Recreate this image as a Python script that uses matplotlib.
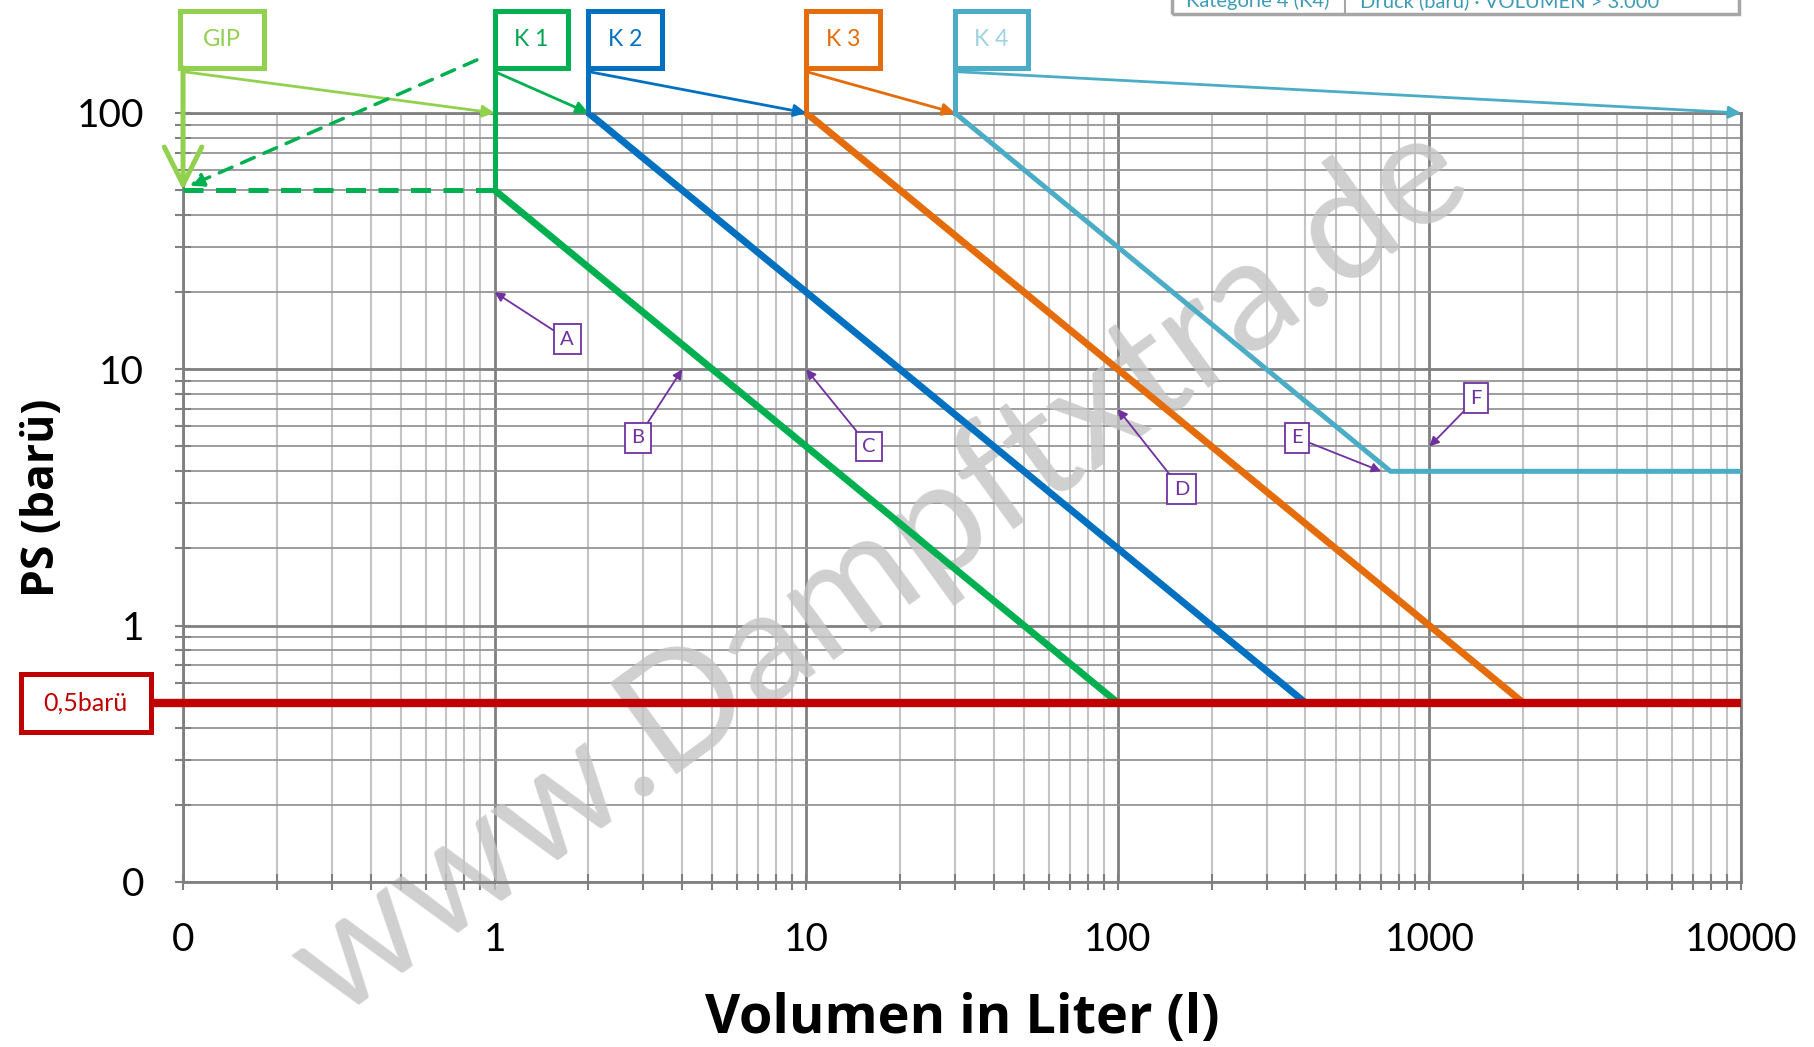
import numpy as np
import matplotlib.pyplot as plt
from matplotlib.patches import Rectangle
from matplotlib.ticker import LogLocator, NullFormatter

plt.rcParams['font.family'] = ['Lato', 'DejaVu Sans']

# pressure equipment categories: limit curves volume V (l) vs. max pressure PS (barü)
categories = ['K 1', 'K 2', 'K 3', 'K 4']
cat_colors = ['#00B050', '#0070C0', '#E46C0A', '#4BACC6']
label_colors = ['#00A64F', '#0070C0', '#E46C0A', '#9DD3E0']
curve_v = [[1, 100], [2, 400], [10, 2000], [30, 750, 10000]]
curve_ps = [[50, 0.5], [100, 0.5], [100, 0.5], [100, 4, 4]]
next_start_v = [2, 10, 30, 10000]   # where each category arrow points (at PS = 100)

gip_label = 'GIP'
gip_ps = 50          # GIP limit pressure up to 1 l
gip_v_end = 1
min_ps = 0.5         # lower limit 0,5 barü
min_ps_label = '0,5barü'

# purple markers A-F: target point (V, PS) and label position (V, PS)
marker_labels = ['A', 'B', 'C', 'D', 'E', 'F']
marker_xy = [(1, 20), (4, 10), (10, 10), (100, 7), (700, 4), (1000, 5)]
marker_text_xy = [(1.71, 13.1), (2.88, 5.4), (15.9, 5.0), (160, 3.4), (376, 5.4), (1413, 7.7)]

x_ticks = [0.1, 1, 10, 100, 1000, 10000]
x_ticklabels = ['0', '1', '10', '100', '1000', '10000']
y_ticks = [0.1, 1, 10, 100]
y_ticklabels = ['0', '1', '10', '100']

table_cells = ['Kategorie 4 (K4)', 'Druck (barü) · VOLUMEN > 3.000']

fig = plt.figure(figsize=(18.14, 10.47), dpi=100)
ax = fig.add_axes([0.1009, 0.1576, 0.8589, 0.7345])
ax.set_xscale('log')
ax.set_yscale('log')
ax.set_xlim(0.1, 10000)
ax.set_ylim(0.1, 100)

# grid
for axis in (ax.xaxis, ax.yaxis):
    axis.set_minor_locator(LogLocator(base=10, subs=range(2, 10), numticks=30))
    axis.set_minor_formatter(NullFormatter())
ax.set_xticks(x_ticks)
ax.set_xticklabels(x_ticklabels)
ax.set_yticks(y_ticks)
ax.set_yticklabels(y_ticklabels)
ax.grid(which='major', color='#808080', lw=2)
ax.grid(which='minor', axis='x', color='#c4c4c4', lw=1.5)
ax.grid(which='minor', axis='y', color='#959595', lw=1.3)
for s in ax.spines.values():
    s.set_color('#808080')
    s.set_linewidth(2)
ax.tick_params(which='both', direction='inout', length=12, width=1.5, color='#808080',
               labelsize=28)
ax.tick_params(axis='x', pad=23)
ax.tick_params(axis='y', pad=22)

ax.text(0.5, -0.178, 'Volumen in Liter (l)', transform=ax.transAxes, ha='center',
        va='center', fontsize=39, fontweight='bold', family=['Open Sans', 'DejaVu Sans'])
ax.text(-0.09, 0.5, 'PS (barü)', transform=ax.transAxes, ha='center', va='center',
        rotation=90, fontsize=32, fontweight='bold', family=['Open Sans', 'DejaVu Sans'])

# watermark
ax.text(0.485, 0.456, 'www.Dampftxtra.de', transform=fig.transFigure, rotation=36,
        rotation_mode='anchor', ha='center', va='center', fontsize=113,
        color='#c4c4c4', alpha=0.8, zorder=1.6, clip_on=False)

box_y0, box_y1 = 150, 250
arrow_y0 = 145

# category curves, boxes and arrows
for i, cat in enumerate(categories):
    c = cat_colors[i]
    lw = 3.6 if i == 3 else 5
    ax.plot(curve_v[i], curve_ps[i], color=c, lw=lw, zorder=4, solid_capstyle='butt')
    v0, p0 = curve_v[i][0], curve_ps[i][0]
    ax.plot([v0, v0], [p0, box_y0], color=c, lw=3.6, zorder=4, clip_on=False)
    ax.add_patch(Rectangle((v0, box_y0), 0.72 * v0, box_y1 - box_y0, fc='white', ec=c,
                           lw=3.6, zorder=5, clip_on=False))
    ax.text(v0 * 1.72 ** 0.5, (box_y0 * box_y1) ** 0.5, cat, color=label_colors[i],
            fontsize=16.5, ha='center', va='center', zorder=6, clip_on=False)
    ax.annotate('', xy=(next_start_v[i], 100), xytext=(v0, arrow_y0),
                arrowprops=dict(arrowstyle='-|>', color=c, lw=2, mutation_scale=18,
                                shrinkA=0, shrinkB=0), annotation_clip=False, zorder=5)

# GIP
gip_c = '#92D050'
ax.add_patch(Rectangle((0.0975, box_y0), 0.0845, box_y1 - box_y0, fc='white', ec=gip_c,
                       lw=3.6, zorder=5, clip_on=False))
ax.text(0.0975 * 1.87 ** 0.5, (box_y0 * box_y1) ** 0.5, gip_label, color=gip_c,
        fontsize=17, ha='center', va='center', zorder=6, clip_on=False)
ax.annotate('', xy=(0.1, gip_ps), xytext=(0.1, box_y0),
            arrowprops=dict(arrowstyle='->,head_length=0.9,head_width=0.45', color=gip_c,
                            lw=3.6, mutation_scale=30, shrinkA=0, shrinkB=0),
            annotation_clip=False, zorder=5)
ax.annotate('', xy=(1, 100), xytext=(0.1, arrow_y0),
            arrowprops=dict(arrowstyle='-|>', color=gip_c, lw=2, mutation_scale=18,
                            shrinkA=0, shrinkB=0), annotation_clip=False, zorder=5)
ax.plot([0.1, gip_v_end], [gip_ps, gip_ps], color=cat_colors[0], lw=3.6, ls=(0, (4, 2.5)),
        zorder=4, clip_on=False)
ax.annotate('', xy=(0.105, 52), xytext=(0.877, 161),
            arrowprops=dict(arrowstyle='-|>', color=cat_colors[0], lw=2.5, ls=(0, (4, 3)),
                            mutation_scale=20, shrinkA=0, shrinkB=0),
            annotation_clip=False, zorder=5)

# lower limit 0,5 barü
red = '#C00000'
ax.plot([0.0787, 10000], [min_ps, min_ps], color=red, lw=6, zorder=4.5, clip_on=False,
        solid_capstyle='butt')
ax.add_patch(Rectangle((0.0302, 0.386), 0.0485, 0.264, fc='white', ec=red, lw=3.6,
                       zorder=5, clip_on=False))
ax.text((0.0302 * 0.0787) ** 0.5, (0.386 * 0.65) ** 0.5, min_ps_label, color=red,
        fontsize=18, ha='center', va='center', zorder=6, clip_on=False)

# markers A-F
purple = '#7030A0'
for lbl, xy, txy in zip(marker_labels, marker_xy, marker_text_xy):
    ax.annotate(lbl, xy=xy, xytext=txy, fontsize=14.5, color=purple, ha='center', va='center',
                bbox=dict(boxstyle='square,pad=0.32', fc='white', ec=purple, lw=1.3),
                arrowprops=dict(arrowstyle='-|>', color=purple, lw=1.3, mutation_scale=14,
                                shrinkA=0, shrinkB=0), zorder=6)

# partially visible table at the top
fig.add_artist(Rectangle((1172 / 1814, 1 - 14 / 1047), (1739 - 1172) / 1814, 0.1,
                         transform=fig.transFigure, fill=False, ec='#a6a6a6', lw=2.5))
fig.add_artist(plt.Line2D([1345 / 1814] * 2, [1 - 14 / 1047, 1.0], transform=fig.transFigure,
                          color='#a6a6a6', lw=1.5))
fig.text(1258 / 1814, 1 - 7 / 1047, table_cells[0], ha='center', va='baseline', fontsize=14.5,
         color='#3E9BB5')
fig.text(1510 / 1814, 1 - 7 / 1047, table_cells[1], ha='center', va='baseline', fontsize=14.5,
         color='#3E9BB5')

fig.savefig('out.png', dpi=100)
